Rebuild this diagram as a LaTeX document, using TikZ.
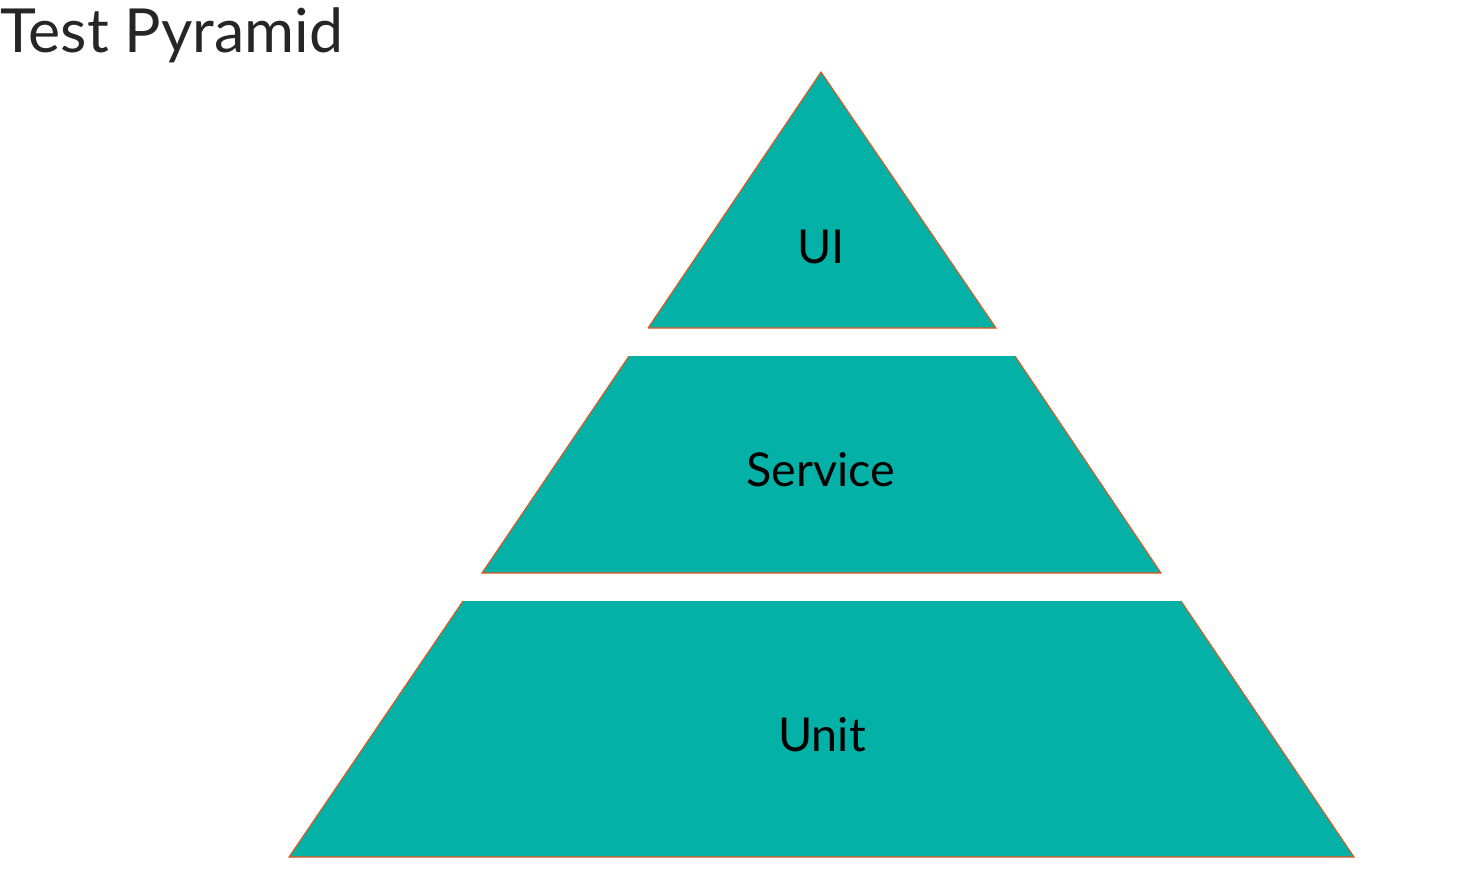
\documentclass[tikz,border=0pt]{standalone}
\usepackage{fontspec}
\setmainfont{Lato}
\definecolor{teal1}{HTML}{04B1A7}
\definecolor{edgeor}{HTML}{E8541A}
\definecolor{titlegray}{HTML}{262626}
\begin{document}
\begin{tikzpicture}[x=0.75pt,y=-0.75pt,
  tier/.style={fill=teal1,draw=none},
  tieredge/.style={draw=edgeor,line width=0.8pt},
  lbl/.style={font=\fontsize{35}{40}\selectfont,text=black,inner sep=0pt}]
\useasboundingbox (0,0) rectangle (1481,883);
% top triangle
\coordinate (a1) at (821,72);
\coordinate (a2) at (648,328);
\coordinate (a3) at (996,328);
\fill[tier] (a1) -- (a2) -- (a3) -- cycle;
\draw[tieredge] (a2) -- (a1) -- (a3) -- (a2);
% middle
\coordinate (b1) at (629,356);
\coordinate (b2) at (1015,356);
\coordinate (b3) at (1161,573);
\coordinate (b4) at (482,573);
\fill[tier] (b1) -- (b2) -- (b3) -- (b4) -- cycle;
\draw[tieredge] (b1) -- (b4) -- (b3) -- (b2);
% bottom
\coordinate (c1) at (463,601);
\coordinate (c2) at (1181,601);
\coordinate (c3) at (1354,857);
\coordinate (c4) at (289,857);
\fill[tier] (c1) -- (c2) -- (c3) -- (c4) -- cycle;
\draw[tieredge] (c1) -- (c4) -- (c3) -- (c2);
% labels
\node[lbl] (ui) at (821,247) {UI};
\node[lbl] (service) at (821,470) {Service};
\node[lbl] (unit) at (822,735) {Unit};
% title
\node[anchor=north west,inner sep=0pt,text=titlegray,font=\fontsize{45.6}{52}\selectfont] (title) at (0,7) {Test Pyramid};
\end{tikzpicture}
\end{document}
